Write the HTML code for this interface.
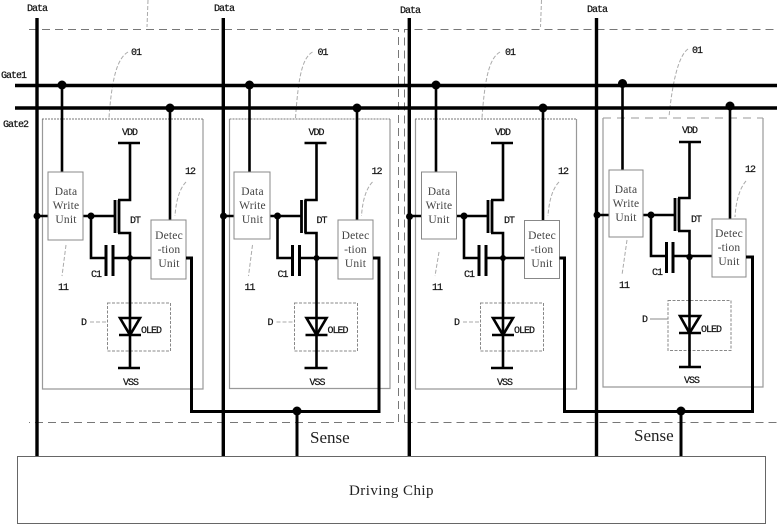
<!DOCTYPE html>
<html><head><meta charset="utf-8"><style>
html,body{margin:0;padding:0;background:#fff}
svg{display:block;filter:blur(.35px)}
text{font-family:"Liberation Serif",serif;fill:#222}
.s{font-size:10px;font-family:"Liberation Mono","Liberation Serif",serif;letter-spacing:-1px;fill:#111;stroke:#111;stroke-width:.2px}
.u{font-size:11.5px;text-anchor:middle;fill:#444;letter-spacing:.2px}
.w{fill:none;stroke:#000;stroke-width:3}
.t{fill:none;stroke:#000;stroke-width:2.6}
.g{fill:none;stroke:#999;stroke-width:1.2}
.o{fill:none;stroke:#777;stroke-width:1;stroke-dasharray:2 1}
.d{fill:none;stroke:#888;stroke-width:1;stroke-dasharray:3 1.500}
.l{fill:none;stroke:#aaa;stroke-width:1;stroke-dasharray:4 2}
.b{fill:#fff;stroke:#888;stroke-width:1}
</style></head><body>
<svg width="777" height="525" viewBox="0 0 777 525" xmlns="http://www.w3.org/2000/svg">
<rect width="777" height="525" fill="#fff"/>
<!-- outer dashed -->
<path d="M29 29.500H398.500V422.500H29M404.500 422.500V29.500H777M404.500 422.500H777" fill="none" stroke="#777" stroke-width="1" stroke-dasharray="8 5"/>
<path class="l" d="M148 0L147 27M541.500 0L540.500 27"/>
<!-- cell 1 -->
<g>
<path class="g" d="M42.500 119V389H203V119"/><path class="o" d="M42 119H203"/>
<path class="l" d="M128 52C118 58 112 75 109 118"/>
<text class="s" x="131" y="55">01</text>
<rect class="d" x="107.500" y="303" width="63" height="48"/>
<path class="l" d="M90 322H107M66 245L62 276M186 182C180 188 176 200 175 216"/>
<path class="t" d="M62 85V172M170 108V220M37 216H48M83 216H114M118 143H140M130 143V200H118M118 233H130V368M118 368H140M91 216V258H105M114 258H151"/>
<path class="t" d="M115 200V233M119 200V233" style="stroke-width:2.800"/>
<path class="t" d="M106 245V276M113 245V276" style="stroke-width:3"/>
<path class="t" d="M120 318H140L130 335ZM119 335H141"/>
<rect class="b" x="48" y="172" width="35" height="68"/>
<rect class="b" x="151" y="220" width="35" height="59"/>
<text class="u" x="66" y="195">Data</text><text class="u" x="66" y="209">Write</text><text class="u" x="66" y="223">Unit</text>
<text class="u" x="169" y="239">Detec</text><text class="u" x="169" y="253">-tion</text><text class="u" x="169" y="267">Unit</text>
<text class="s" x="122" y="135">VDD</text><text class="s" x="130" y="223">DT</text><text class="s" x="91" y="277">C1</text>
<text class="s" x="58" y="290">11</text><text class="s" x="185" y="174">12</text><text class="s" x="81" y="325">D</text>
<text class="s" x="141" y="333">OLED</text><text class="s" x="123" y="385">VSS</text>
<circle cx="62" cy="85" r="4.500"/><circle cx="170" cy="108" r="4.500"/><circle cx="37" cy="216" r="3.500"/><circle cx="91" cy="216" r="3.500"/><circle cx="130" cy="258" r="3"/>
</g>
<!-- cell 2 -->
<g transform="translate(186.500 0)">
<path class="g" d="M43 119V388.500H203.500V119"/><path class="o" d="M43 119H203.500"/>
<path class="l" d="M126 52C116 58 112 75 109 118"/>
<text class="s" x="131" y="55">01</text>
<rect class="d" x="108" y="303" width="63" height="48"/>
<path class="l" d="M90 322H107M66 245L62 276M186 182C180 188 176 200 175 216"/>
<path class="t" d="M63 85V172M170.500 108V220M37 216H48M83 216H114M118 143H140M130 143V200H118M118 233H130V368M118 368H141M91 216V258H105M114 258H152"/>
<path class="t" d="M115 200V233M119 200V233" style="stroke-width:2.800"/>
<path class="t" d="M106 245V276M113 245V276" style="stroke-width:3"/>
<path class="t" d="M120 318H140L130 335ZM119 335H141"/>
<rect class="b" x="47.500" y="172" width="36" height="67"/>
<rect class="b" x="151.500" y="220" width="35" height="59"/>
<text class="u" x="66" y="195">Data</text><text class="u" x="66" y="209">Write</text><text class="u" x="66" y="223">Unit</text>
<text class="u" x="169" y="239">Detec</text><text class="u" x="169" y="253">-tion</text><text class="u" x="169" y="267">Unit</text>
<text class="s" x="122" y="135">VDD</text><text class="s" x="130" y="223">DT</text><text class="s" x="91" y="277">C1</text>
<text class="s" x="58" y="290">11</text><text class="s" x="185" y="174">12</text><text class="s" x="81" y="325">D</text>
<text class="s" x="141" y="333">OLED</text><text class="s" x="123" y="385">VSS</text>
<circle cx="63" cy="85" r="4.500"/><circle cx="170.500" cy="108" r="4.500"/><circle cx="37" cy="216" r="3.500"/><circle cx="91" cy="216" r="3.500"/><circle cx="130" cy="258" r="3"/>
</g>
<!-- cell 3 -->
<g transform="translate(373 0)">
<path class="g" d="M42.500 119V389H203.500V119"/><path class="o" d="M42 119H203.500"/>
<path class="l" d="M127 52C117 58 112 75 109 118"/>
<text class="s" x="132" y="55">01</text>
<rect class="d" x="107.500" y="303" width="63" height="48"/>
<path class="l" d="M90 322H107M66 252L62 276M186 182C180 188 176 200 175 216"/>
<path class="t" d="M63 85V172M170 108V220M36 216H49M83 216H114M118 143H140M130 143V200H118M118 233H130V368M118 368H140M91 216V258H105M114 258H152"/>
<path class="t" d="M115 200V233M119 200V233" style="stroke-width:2.800"/>
<path class="t" d="M106 245V276M113 245V276" style="stroke-width:3"/>
<path class="t" d="M120 318H140L130 335ZM119 335H141"/>
<rect class="b" x="48.500" y="172" width="35" height="67"/>
<rect class="b" x="151.500" y="220.500" width="35" height="58"/>
<text class="u" x="66" y="195">Data</text><text class="u" x="66" y="209">Write</text><text class="u" x="66" y="223">Unit</text>
<text class="u" x="169" y="239">Detec</text><text class="u" x="169" y="253">-tion</text><text class="u" x="169" y="267">Unit</text>
<text class="s" x="122" y="135">VDD</text><text class="s" x="131" y="223">DT</text><text class="s" x="91" y="277">C1</text>
<text class="s" x="59" y="290">11</text><text class="s" x="185" y="174">12</text><text class="s" x="81" y="325">D</text>
<text class="s" x="141" y="333">OLED</text><text class="s" x="124" y="385">VSS</text>
<circle cx="63" cy="85" r="4.500"/><circle cx="170" cy="108" r="4.500"/><circle cx="36.500" cy="216.500" r="3.500"/><circle cx="91" cy="216" r="3.500"/><circle cx="130" cy="258" r="3"/>
</g>
<!-- cell 4 -->
<g>
<path class="g" d="M603 118V387H763V118"/><path d="M603 118H763" fill="none" stroke="#999" stroke-width="1" stroke-dasharray="8 6"/>
<path class="l" d="M688 49C678 56 672 85 669 117"/>
<text class="s" x="692" y="53">01</text>
<rect class="d" x="668" y="300.500" width="63" height="50"/>
<path d="M650 319H668" fill="none" stroke="#888" stroke-width="1"/>
<path class="l" d="M627 240L622 275M746 181C740 188 736 200 735 217"/>
<path class="t" d="M622.500 85V170M730 106V219M597 215H609M643 215H674M679 142H701M689.500 142V198H678M678 231H689.500V367M679 367H701M651 215V256H665M673 256H712"/>
<path class="t" d="M675 198V231M679 198V231" style="stroke-width:2.800"/>
<path class="t" d="M666.500 242V273M673 242V273" style="stroke-width:3"/>
<path class="t" d="M680 316H700L689.500 333ZM679 333H701"/>
<rect class="b" x="609" y="170" width="34" height="67"/>
<rect class="b" x="712" y="219" width="34" height="58"/>
<text class="u" x="626" y="193">Data</text><text class="u" x="626" y="207">Write</text><text class="u" x="626" y="221">Unit</text>
<text class="u" x="729" y="237">Detec</text><text class="u" x="729" y="251">-tion</text><text class="u" x="729" y="265">Unit</text>
<text class="s" x="682" y="133">VDD</text><text class="s" x="691" y="222">DT</text><text class="s" x="652" y="275">C1</text>
<text class="s" x="619" y="288">11</text><text class="s" x="745" y="172">12</text><text class="s" x="642" y="322">D</text>
<text class="s" x="701" y="332">OLED</text><text class="s" x="684" y="383">VSS</text>
<circle cx="622.500" cy="83.500" r="4.500"/><circle cx="730" cy="106" r="4.500"/><circle cx="597" cy="215" r="3.500"/><circle cx="651" cy="215" r="3.500"/><circle cx="689.500" cy="257" r="3.200"/>
</g>
<!-- buses -->
<path class="w" d="M15 85.500H777M15 108H777" style="stroke-width:3.600"/>
<path class="w" d="M37 18V457M223.300 18V457M409.300 18V457M596.500 18V457" style="stroke-width:3.400"/>
<!-- sense -->
<path class="t" d="M186 258H191.500V411.500H379V258H373M559.500 258H564.500V411.500H752.500V257H746M297 411.500V456M681 411.500V456" style="stroke-width:3"/>
<circle cx="297" cy="411" r="4.500"/><circle cx="681" cy="411" r="4.500"/>
<!-- chip -->
<rect x="17.500" y="456.500" width="748" height="67" fill="#fff" stroke="#666" stroke-width="1"/>
<text x="349" y="495" style="font-size:15px;letter-spacing:.45px">Driving Chip</text>
<text x="310" y="443" style="font-size:17px">Sense</text>
<text x="634" y="441" style="font-size:17px">Sense</text>
<text class="s" x="27" y="11">Data</text><text class="s" x="214" y="11">Data</text><text class="s" x="400" y="13">Data</text><text class="s" x="587" y="12">Data</text>
<text class="s" x="1" y="78">Gate1</text><text class="s" x="3" y="127">Gate2</text>
</svg>
</body></html>
